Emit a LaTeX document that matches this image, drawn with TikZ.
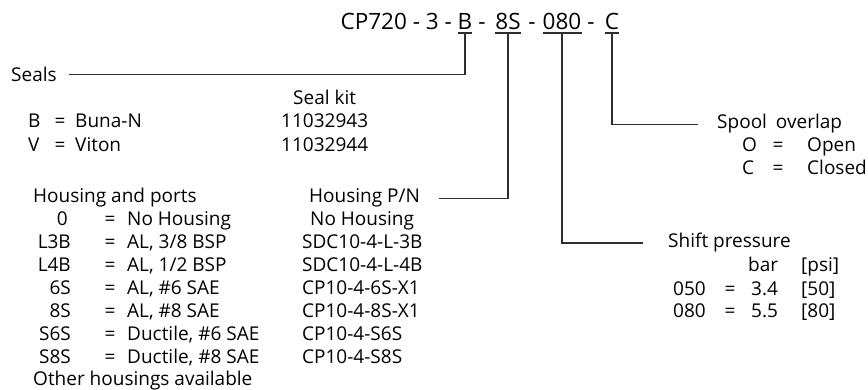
\documentclass[tikz,border=0pt]{standalone}
\usepackage{fontspec}
\setmainfont{Open Sans}
\usepackage{tikz}
\usetikzlibrary{calc}
\definecolor{leadline}{RGB}{45,45,45}

\begin{document}
\begin{tikzpicture}[x=1pt,y=-1pt,
    txt/.style={inner sep=0pt,anchor=base west,font=\fontsize{19}{23}\selectfont},
    code/.style={txt,anchor=base east},
    eq/.style={txt,anchor=base},
    part/.style={inner sep=0pt,anchor=base,font=\fontsize{22.5}{27}\selectfont},
    lead/.style={draw=leadline,line width=1.1pt}]
    \useasboundingbox (0,0) rectangle (868,390);

    % ordering code
    \node[part,anchor=base east] (tPre) at (452,30) {CP720 - 3 -};
    \node[part] (tB) at (465,30) {B};
    \node[part] (tDash1) at (482,30) {-};
    \node[part] (t8S) at (508,30) {8S};
    \node[part] (tDash2) at (532,30) {-};
    \node[part] (t080) at (562,30) {080};
    \node[part] (tDash3) at (591,30) {-};
    \node[part] (tC) at (612,30) {C};
    \foreach \p in {tB,t8S,t080,tC}
        \draw[lead] ([yshift=-3pt]\p.base west) -- ([yshift=-3pt]\p.base east);

    % seals
    \node[txt] (seals) at (11,82) {Seals};
    \node[txt] (sealkit) at (293,105) {Seal kit};
    \node[txt] (sB) at (28,128) {B};
    \node[eq] (sBeq) at (60,128) {=};
    \node[txt] (sBname) at (75,128) {Buna-N};
    \node[txt] (sBkit) at (281,128) {11032943};
    \node[txt] (sV) at (28,152) {V};
    \node[eq] (sVeq) at (60,152) {=};
    \node[txt] (sVname) at (75,152) {Viton};
    \node[txt] (sVkit) at (281,152) {11032944};

    % housing
    \node[txt] (hports) at (33,203) {Housing and ports};
    \node[txt] (hpn) at (309,203) {Housing P/N};
    \node[code] (h0) at (68,226) {0};
    \node[eq] at (110,226) {=};
    \node[txt] at (127,226) {No Housing};
    \node[txt] at (310,226) {No Housing};
    \node[code] (hL3B) at (71,249) {L3B};
    \node[eq] at (110,249) {=};
    \node[txt] at (127,249) {AL, 3/8 BSP};
    \node[txt] at (302,249) {SDC10-4-L-3B};
    \node[code] (hL4B) at (71,272) {L4B};
    \node[eq] at (110,272) {=};
    \node[txt] at (127,272) {AL, 1/2 BSP};
    \node[txt] at (302,272) {SDC10-4-L-4B};
    \node[code] (h6S) at (71,294.5) {6S};
    \node[eq] at (110,294.5) {=};
    \node[txt] at (127,294.5) {AL, \#6 SAE};
    \node[txt] at (302,294.5) {CP10-4-6S-X1};
    \node[code] (h8S) at (71,317) {8S};
    \node[eq] at (110,317) {=};
    \node[txt] at (127,317) {AL, \#8 SAE};
    \node[txt] at (302,317) {CP10-4-8S-X1};
    \node[code] (hS6S) at (71,340) {S6S};
    \node[eq] at (110,340) {=};
    \node[txt] at (127,340) {Ductile, \#6 SAE};
    \node[txt] at (302,340) {CP10-4-S6S};
    \node[code] (hS8S) at (71,363) {S8S};
    \node[eq] at (110,363) {=};
    \node[txt] at (127,363) {Ductile, \#8 SAE};
    \node[txt] at (302,363) {CP10-4-S8S};
    \node[txt] (hother) at (33,385) {Other housings available};

    % shift pressure
    \node[txt] (shift) at (668,248) {Shift pressure};
    \node[txt] (pbar) at (748,272) {bar};
    \node[txt] (ppsi) at (801,272) {[psi]};
    \node[txt] (p050) at (673,295) {050};
    \node[eq] at (730,295) {=};
    \node[txt] at (751,295) {3.4};
    \node[txt] at (801,295) {[50]};
    \node[txt] (p080) at (673,317) {080};
    \node[eq] at (730,317) {=};
    \node[txt] at (751,317) {5.5};
    \node[txt] at (801,317) {[80]};

    % spool overlap
    \node[txt] (spool) at (717,129) {Spool\hspace{4pt} overlap};
    \node[txt] (oO) at (742,152) {O};
    \node[eq] at (778,152) {=};
    \node[txt] at (807,152) {Open};
    \node[txt] (oC) at (742,175) {C};
    \node[eq] at (778,175) {=};
    \node[txt] at (807,175) {Closed};

    % leader lines
    \draw[lead] ([yshift=-3pt]tB.base) |- ([xshift=12pt]seals.east);
    \draw[lead] ([yshift=-3pt]t8S.base) |- ([xshift=19pt]hpn.east);
    \draw[lead] ([yshift=-3pt]t080.base) |- ([xshift=-25pt]shift.west);
    \draw[lead] ([yshift=-3pt]tC.base) |- ([xshift=-19pt]spool.west);
\end{tikzpicture}
\end{document}
